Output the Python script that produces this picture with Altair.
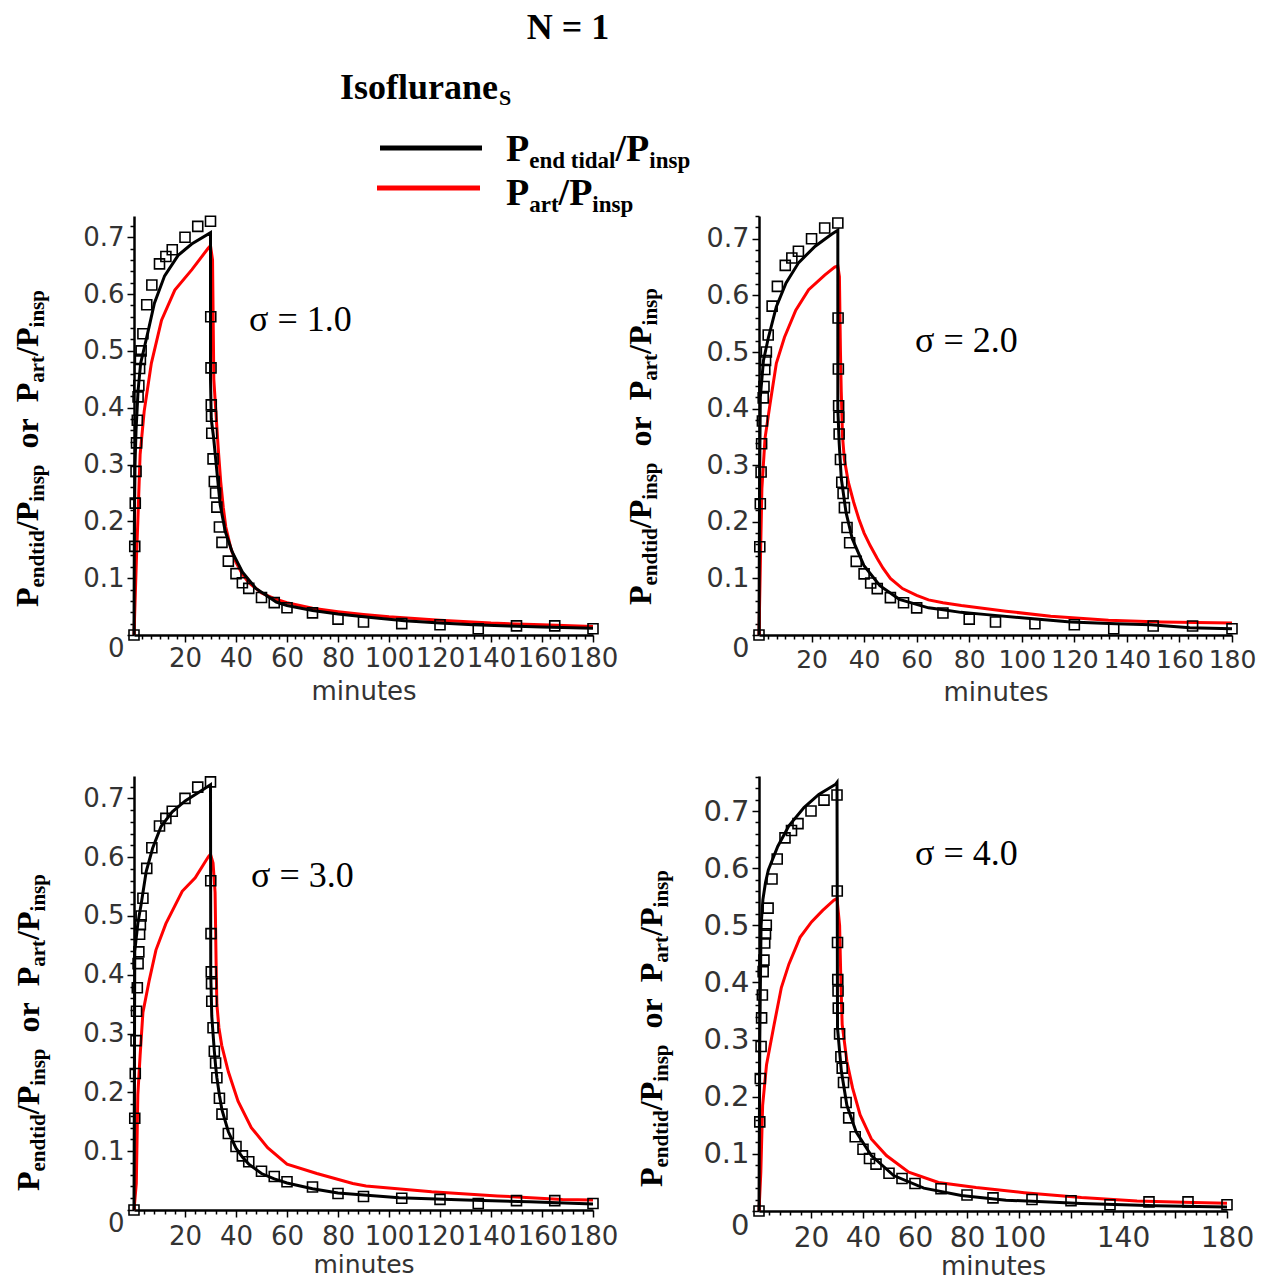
import json
import altair as alt
import pandas as pd

# ---------------- data ----------------
meas_t = [0, 0.3, 0.5, 0.8, 1.0, 1.3, 1.6, 1.9, 2.2, 2.5, 2.8, 3.5, 5, 7, 10, 12.5, 15, 20, 25, 30,
          30.1, 30.2, 30.3, 30.4, 30.5, 31, 31.5, 32, 32.5, 33.5, 34.5, 37, 40, 42.5, 45, 50, 55, 60,
          70, 80, 90, 105, 120, 135, 150, 165, 180]
meas_y = [0, 0.156, 0.232, 0.288, 0.338, 0.378, 0.419, 0.439, 0.469, 0.485, 0.50, 0.53, 0.581, 0.616,
          0.653, 0.666, 0.678, 0.70, 0.719, 0.728,
          0.56, 0.47, 0.405, 0.385, 0.355, 0.31, 0.27, 0.25, 0.225, 0.19, 0.163, 0.130, 0.108, 0.092,
          0.082, 0.066, 0.057, 0.048, 0.039, 0.028, 0.023, 0.020, 0.018, 0.011, 0.016, 0.016, 0.011]

p1_et_t = [0, 0.15, 0.4, 0.8, 1.6, 2.6, 4, 5.3, 8, 12, 17.3, 22.6, 30, 30, 30.3, 31.2, 32.5, 33.8, 35.8,
           38.5, 42.5, 47.8, 55.8, 60, 70, 80, 93, 106, 120, 133, 147, 160, 180]
p1_et_y = [0, 0.20, 0.30, 0.36, 0.43, 0.478, 0.505, 0.53, 0.584, 0.632, 0.668, 0.688, 0.708, 0.45, 0.38,
           0.348, 0.288, 0.229, 0.182, 0.146, 0.111, 0.082, 0.058, 0.052, 0.043, 0.037, 0.031, 0.025,
           0.021, 0.018, 0.016, 0.014, 0.012]
p1_art_t = [0, 0.5, 1.0, 1.5, 2.4, 4, 6.8, 10.8, 16, 22.7, 29, 30, 30.8, 31.3, 32, 33, 34, 35, 36, 38,
            40, 42.5, 45, 50, 55, 60, 70, 80, 90, 100, 120, 140, 160, 180]
p1_art_y = [0, 0.07, 0.14, 0.20, 0.318, 0.394, 0.478, 0.554, 0.607, 0.643, 0.68, 0.685, 0.66, 0.45,
            0.40, 0.33, 0.27, 0.225, 0.19, 0.152, 0.128, 0.107, 0.092, 0.074, 0.064, 0.057, 0.047,
            0.041, 0.036, 0.032, 0.026, 0.021, 0.018, 0.015]

p2_et_t = [0, 0.2, 0.5, 1.7, 3.6, 6.6, 10.3, 15.1, 21.4, 27.6, 30, 30, 30.5, 31.3, 33.1, 35.5, 39.9, 46,
           53.4, 64.5, 69.4, 76.8, 86.6, 101, 118.6, 135.8, 149, 164, 180]
p2_et_y = [0, 0.25, 0.42, 0.485, 0.526, 0.58, 0.622, 0.658, 0.687, 0.708, 0.715, 0.40, 0.34, 0.277,
           0.217, 0.17, 0.123, 0.087, 0.063, 0.048, 0.045, 0.04, 0.036, 0.030, 0.023, 0.020, 0.018,
           0.013, 0.011]
p2_art_t = [0, 0.5, 1.1, 2.3, 4.2, 6.6, 9.7, 14, 18.9, 25, 28.8, 30, 30.6, 31.0, 31.3, 31.8, 32.5, 34,
            36, 38, 40, 42.3, 45, 47.2, 50, 54.6, 60, 64.5, 70, 77, 94, 111, 133, 153, 180]
p2_art_y = [0, 0.122, 0.259, 0.348, 0.408, 0.48, 0.526, 0.574, 0.61, 0.636, 0.65, 0.652, 0.633, 0.50,
            0.43, 0.35, 0.31, 0.27, 0.235, 0.205, 0.18, 0.158, 0.135, 0.118, 0.10, 0.082, 0.07, 0.062,
            0.057, 0.052, 0.042, 0.033, 0.026, 0.023, 0.021]

p3_et_t = [0, 0.3, 1.5, 2.8, 4.8, 7.3, 10.6, 15, 20.2, 25.3, 30, 30.1, 30.5, 31, 31.5, 32, 32.5, 33.5,
           34.5, 37, 40, 42.5, 45, 50, 55, 60, 70, 80, 104, 130, 155, 180]
p3_et_y = [0, 0.44, 0.487, 0.52, 0.576, 0.615, 0.652, 0.677, 0.696, 0.71, 0.723, 0.40, 0.33, 0.30,
           0.27, 0.245, 0.225, 0.195, 0.17, 0.133, 0.105, 0.09, 0.078, 0.062, 0.053, 0.046, 0.036,
           0.029, 0.021, 0.017, 0.014, 0.010]
p3_art_t = [0, 0.9, 1.5, 2.4, 3.5, 6, 8.6, 12.5, 18.9, 24, 29.2, 30, 31, 31.8, 32.2, 32.5, 33.3, 34.4,
            37, 40.8, 46, 52.4, 60, 71.7, 85.8, 91, 116.7, 142.5, 168, 180]
p3_art_y = [0, 0.045, 0.196, 0.263, 0.336, 0.391, 0.442, 0.487, 0.542, 0.565, 0.601, 0.605, 0.59,
            0.54, 0.42, 0.35, 0.31, 0.28, 0.235, 0.185, 0.14, 0.106, 0.078, 0.062, 0.045, 0.041,
            0.031, 0.024, 0.018, 0.017]

p4_et_t = [0, 0.3, 0.8, 1.5, 2.5, 3.6, 7.2, 11.5, 17.3, 23, 29.5, 30, 30.2, 31.7, 33.8, 37.4, 43.2,
           51.8, 63.4, 77.8, 95, 124, 152.6, 180]
p4_et_y = [0, 0.30, 0.50, 0.545, 0.575, 0.597, 0.638, 0.674, 0.706, 0.729, 0.747, 0.75, 0.32, 0.244,
           0.185, 0.138, 0.097, 0.062, 0.040, 0.027, 0.019, 0.013, 0.009, 0.007]
p4_art_t = [0, 0.7, 1.4, 2.9, 5.8, 8.6, 11.5, 15.8, 20.2, 24.5, 28.8, 30, 31, 31.5, 32, 33.8, 36,
            38.9, 43.2, 49, 57.6, 69, 83.5, 102, 124, 145.4, 167, 180]
p4_art_y = [0, 0.068, 0.185, 0.256, 0.326, 0.391, 0.432, 0.479, 0.506, 0.526, 0.544, 0.547, 0.50,
            0.40, 0.326, 0.262, 0.215, 0.168, 0.126, 0.097, 0.068, 0.05, 0.041, 0.032, 0.0235,
            0.0176, 0.0147, 0.0135]

x_labels_full = [20, 40, 60, 80, 100, 120, 140, 160, 180]
x_labels_p4 = [20, 40, 60, 80, 100, 140, 180]
sigma_texts = ["σ = 1.0", "σ = 2.0", "σ = 3.0", "σ = 4.0"]

SERIF = "Liberation Serif"
SANS = "DejaVu Sans"
one = pd.DataFrame({"k": [0]})


def x_axis(fs, step, labels, lpad, title_fs, title_pad):
    vals = sorted({round(step * k, 4) for k in range(1, int(round(180 / step)) + 1)})
    lab = json.dumps(labels)
    is_lab = f"indexof({lab}, datum.value) >= 0"
    return alt.Axis(
        values=vals, title="minutes", titleFont=SANS, titleFontSize=title_fs,
        titleFontWeight="normal", titleColor="#333", titlePadding=title_pad,
        labelExpr=f"{is_lab} ? format(datum.value, 'd') : ''",
        labelFont=SANS, labelFontSize={"condition": {"test": is_lab, "value": fs}, "value": 0},
        labelColor="#333", labelOverlap=False, labelFlush=False, labelPadding=lpad,
        tickSize={"condition": {"test": "abs(datum.value/20 - round(datum.value/20)) < 1e-6",
                                "value": 7}, "value": 4},
        tickColor="black", tickWidth=1.5, domainColor="black", domainWidth=2.5, grid=False)


def y_axis(fs, ymax):
    n = int(ymax / 0.02 + 1e-9)
    vals = [round(0.02 * k, 2) for k in range(n + 1)]
    major = "abs(datum.value*10 - round(datum.value*10)) < 1e-6"
    return alt.Axis(
        values=vals, title=None,
        labelExpr=f"({major}) ? (datum.value == 0 ? '0' : format(datum.value, '.1f')) : ''",
        labelFont=SANS, labelFontSize={"condition": {"test": major, "value": fs}, "value": 0},
        labelBaseline={"condition": {"test": "datum.value == 0", "value": "top"}, "value": "middle"},
        labelColor="#333", labelOverlap=False, labelPadding=3,
        tickSize={"condition": {"test": major, "value": 7}, "value": 4},
        tickColor="black", tickWidth=1.5, domainColor="black", domainWidth=2.5, grid=False)


def ytitle(x0, y0):
    F, f = 32, 21
    w = {"P": .611, "endtid": 2.723, "/P": .889, "insp": 1.779, "or": .944, "art": 1.277}
    seq = [("P", 0, 0), ("endtid", 1, 0), ("/P", 0, 0), ("insp", 1, 0), ("or", 0, 0.5),
           ("P", 0, 0.5), ("art", 1, 0), ("/P", 0, 0), ("insp", 1, 0)]
    layers = []
    off = 0.0
    for s, sub, gap in seq:
        fs = f if sub else F
        off += gap * F
        layers.append(alt.Chart(one).mark_text(
            text=s, font=SERIF, fontWeight="bold", fontSize=fs, angle=270, align="left",
            baseline="alphabetic", color="black"
        ).encode(x=alt.value(x0 + (6 if sub else 0)), y=alt.value(y0 - off)))
        off += w[s] * fs
    return layers


def panel(et_t, et_y, art_t, art_y, w, h, ymax, xfs, yfs, step, labels, sigma, sx, sy, tx, ty,
          lpad, title_fs, title_pad):
    et = pd.DataFrame({"t": et_t, "v": et_y, "i": range(len(et_t))})
    ar = pd.DataFrame({"t": art_t, "v": art_y, "i": range(len(art_t))})
    ms = pd.DataFrame({"t": meas_t, "v": meas_y})
    X = alt.X("t:Q", scale=alt.Scale(domain=[0, 180], nice=False, zero=False),
              axis=x_axis(xfs, step, labels, lpad, title_fs, title_pad))
    Y = alt.Y("v:Q", scale=alt.Scale(domain=[0, ymax], nice=False),
              axis=y_axis(yfs, ymax))
    red = alt.Chart(ar).mark_line(color="#ff0000", strokeWidth=3).encode(x=X, y=Y, order="i:Q")
    blk = alt.Chart(et).mark_line(color="black", strokeWidth=3).encode(x=X, y=Y, order="i:Q")
    pts = alt.Chart(ms).mark_point(shape="square", filled=False, color="black", size=100,
                                   strokeWidth=1.6, opacity=1).encode(x=X, y=Y)
    sig = alt.Chart(one).mark_text(text=sigma, font=SERIF, fontSize=36, align="left",
                                   baseline="middle", color="black").encode(
        x=alt.value(sx), y=alt.value(sy))
    layers = [red, blk, pts, sig] + ytitle(tx, ty)
    return alt.layer(*layers).properties(width=w, height=h)


p1 = panel(p1_et_t, p1_et_y, p1_art_t, p1_art_y, 459, 419, 0.7373, 26, 26, 20 / 6, x_labels_full,
           sigma_texts[0], 115, 104, -96, 391, 3, 26, 7)
p2 = panel(p2_et_t, p2_et_y, p2_art_t, p2_art_y, 473, 419, 0.7403, 25, 27, 20 / 6, x_labels_full,
           sigma_texts[1], 156, 125, -108, 389, 5, 26, 7)
p3 = panel(p3_et_t, p3_et_y, p3_art_t, p3_art_y, 459, 434, 0.738, 26, 26, 4, x_labels_full,
           sigma_texts[2], 117, 100, -95, 415, 6, 25, 3)
p4 = panel(p4_et_t, p4_et_y, p4_art_t, p4_art_y, 468, 435, 0.7613, 28, 29, 4, x_labels_p4,
           sigma_texts[3], 156, 78, -97, 411, 6, 26, 1)


# ---------------- header (title + legend), origin = top-left of first plot column ----------------
def htext(s, x, y, fs, align="left"):
    return alt.Chart(one).mark_text(text=s, font=SERIF, fontWeight="bold", fontSize=fs,
                                    align=align, baseline="alphabetic", color="black").encode(
        x=alt.value(x), y=alt.value(y))


def hline(x1, x2, y, color):
    return alt.Chart(one).mark_rule(color=color, strokeWidth=5).encode(
        x=alt.value(x1), x2=alt.value(x2), y=alt.value(y))


F, f = 38, 23
hx = 372
head_layers = [
    htext("N = 1", 434, 33, 36, "center"),
    htext("Isoflurane", 206, 93, 36),
    htext("S", 206 + 4.389 * 36 + 1, 99, 22),
    hline(246, 348, 142, "black"),
    hline(243, 346, 182, "#ff0000"),
    htext("P", hx, 155, F),
    htext("end tidal", hx + 0.611 * F, 162, f),
    htext("/P", hx + 0.611 * F + 3.751 * f, 155, F),
    htext("insp", hx + 0.611 * F + 3.751 * f + 0.889 * F, 162, f),
    htext("P", hx, 199, F),
    htext("art", hx + 0.611 * F, 206, f),
    htext("/P", hx + 0.611 * F + 1.277 * f, 199, F),
    htext("insp", hx + 0.611 * F + 1.277 * f + 0.889 * F, 206, f),
]
header = alt.layer(*head_layers).properties(width=100, height=69)
blank = alt.Chart(one).mark_rule(opacity=0).encode(
    x=alt.value(0), y=alt.value(0), y2=alt.value(1)).properties(width=10, height=69)

chart = alt.concat(
    header, blank, p1, p2, p3, p4, columns=2,
    spacing={"row": 141, "column": 166}, align="none", bounds="flush",
).properties(
    padding={"left": 3, "top": -2, "right": 0, "bottom": 0},
    background="white",
).configure_view(stroke=None)

chart.save("out.html", embed_options={"renderer": "svg", "actions": False})
